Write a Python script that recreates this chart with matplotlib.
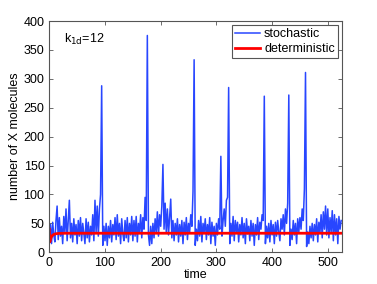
import numpy as np
import matplotlib.pyplot as plt

plt.rcParams['font.family'] = ['Liberation Sans', 'DejaVu Sans']

stoch_t = np.arange(0, 526, 2)
stoch_x = [
    # 0 - 48
    20, 48, 15, 52, 30, 18, 55, 80, 22, 60, 28, 45, 15, 62, 35, 75, 20, 55, 90, 25, 50, 18, 58, 30, 48,
    # 50 - 98
    15, 55, 28, 60, 20, 50, 32, 15, 58, 25, 52, 18, 45, 30, 65, 20, 90, 35, 80, 28, 75, 100, 288, 12, 45,
    # 100 - 148
    20, 50, 12, 45, 25, 55, 18, 48, 30, 60, 22, 65, 28, 50, 15, 58, 32, 20, 55, 25, 60, 18, 50, 30, 62,
    # 150 - 198
    20, 55, 28, 62, 18, 50, 35, 65, 25, 60, 40, 95, 55, 375, 30, 12, 45, 15, 50, 25, 58, 35, 70, 28, 65,
    # 200 - 248
    45, 80, 152, 40, 85, 35, 75, 30, 60, 92, 25, 55, 20, 50, 30, 58, 18, 48, 28, 55, 15, 52, 30, 60, 22,
    # 250 - 298
    50, 35, 65, 45, 105, 333, 12, 40, 20, 55, 28, 62, 18, 50, 35, 58, 22, 48, 30, 60, 15, 52, 28, 45, 12,
    # 300 - 348
    50, 30, 58, 40, 166, 28, 55, 75, 45, 90, 95, 285, 15, 50, 28, 62, 20, 55, 35, 52, 18, 48, 30, 60, 25,
    # 350 - 398
    50, 15, 58, 32, 45, 20, 55, 28, 50, 12, 48, 30, 60, 22, 52, 40, 65, 55, 270, 15, 45, 25, 50, 18, 55,
    # 400 - 448
    30, 48, 15, 52, 28, 55, 35, 20, 58, 40, 65, 30, 75, 50, 85, 272, 12, 40, 22, 55, 30, 50, 15, 58, 35,
    # 450 - 498
    60, 40, 75, 55, 110, 311, 10, 35, 15, 45, 25, 50, 20, 48, 30, 58, 18, 52, 35, 65, 25, 70, 40, 80, 30,
    # 500 - 524
    75, 25, 60, 35, 72, 20, 65, 30, 58, 15, 62, 40, 55,
]

# deterministic solution
det_t = [0, 0.5, 1, 2, 3, 4, 5, 6, 8, 10, 12, 15, 20, 30, 525]
det_x = [40, 22, 18, 22, 25, 27, 28.5, 29.5, 30.8, 31.6, 32.1, 32.5, 32.8, 33, 33]

fig = plt.figure(figsize=(3.77, 2.84), dpi=100)
ax = fig.add_axes([0.1308, 0.1116, 0.7756, 0.8144])

ax.plot(stoch_t, stoch_x, color='#2846ff', lw=1.1, label='stochastic')
ax.plot(det_t, det_x, color='#ff0000', lw=2, label='deterministic')

ax.set_xlim(0, 525)
ax.set_ylim(0, 400)
ax.set_xticks(np.arange(0, 501, 100))
ax.set_yticks(np.arange(0, 401, 50))
ax.tick_params(direction='in', top=True, right=True, labelsize=9,
               length=3, width=0.6, color='#555555')
for s in ax.spines.values():
    s.set_color('#555555')
    s.set_linewidth(0.8)

ax.set_xlabel('time', fontsize=9, labelpad=0)
ax.set_ylabel('number of X molecules', fontsize=9, labelpad=2)
ax.text(0.05, 0.955, r'k$_{\mathrm{1d}}$=12', transform=ax.transAxes,
        fontsize=9, va='top', ha='left')

leg = ax.legend(loc='upper right', fontsize=9, fancybox=False, framealpha=1,
                edgecolor='#555555', handlelength=2.0, handletextpad=0.3,
                borderpad=0.25, labelspacing=0.25, borderaxespad=0.3)
leg.get_frame().set_linewidth(0.8)

fig.savefig('out.png', dpi=100)
